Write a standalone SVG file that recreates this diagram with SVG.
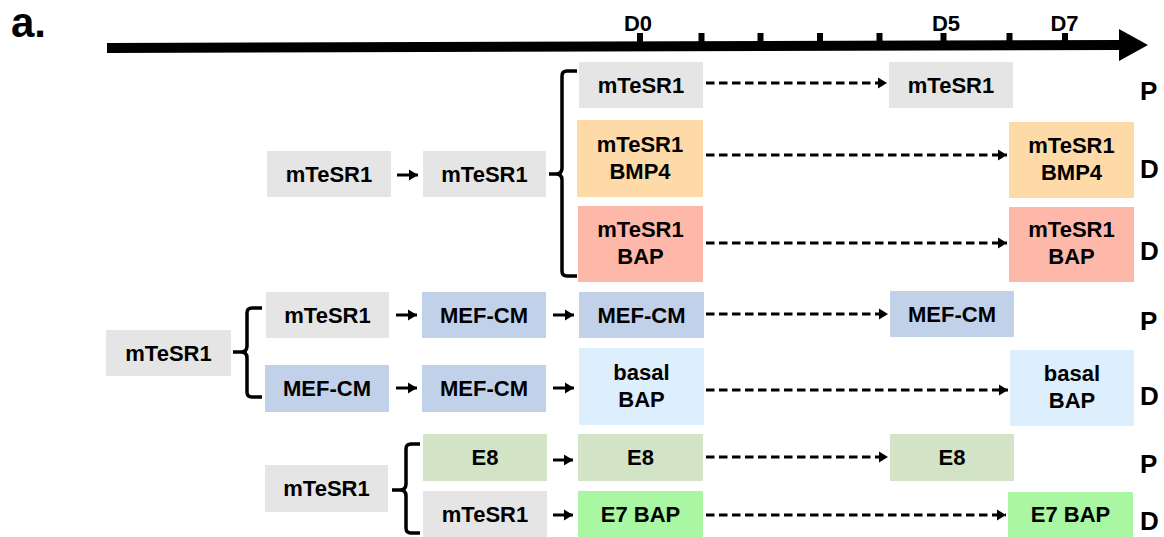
<svg xmlns="http://www.w3.org/2000/svg" width="1164" height="537" viewBox="0 0 1164 537">
<defs>
<style>
text{font-family:"Liberation Sans",Arial,Helvetica,sans-serif;font-weight:bold;fill:#000;}
.t{font-size:22px;text-anchor:middle;}
.lab{font-size:26px;}
.day{font-size:22px;text-anchor:middle;}
.gray{fill:#e5e5e5;}
.orange{fill:#fddaa8;}
.salmon{fill:#fdb8a9;}
.blue{fill:#c2d1ea;}
.lblue{fill:#ddeefd;}
.sage{fill:#d2e4c5;}
.green{fill:#a9f7a2;}
.dash{stroke:#000;stroke-width:3;stroke-dasharray:8.5 4.5;fill:none;}
.solid{stroke:#000;stroke-width:3;fill:none;}
.brace{stroke:#000;stroke-width:3.5;fill:none;stroke-linejoin:round;}
</style>
<marker id="ah" markerUnits="userSpaceOnUse" markerWidth="10" markerHeight="12" refX="9" refY="6" orient="auto">
<path d="M0,0.5 L9,6 L0,11.5 Z" fill="#000"/>
</marker>
</defs>
<rect width="1164" height="537" fill="#fff"/>
<text x="11" y="37" style="font-size:42px">a.</text>
<g id="timeline">
<polygon points="107,43 1121,40 1121,50 107,53" fill="#000"/>
<polygon points="1119,29 1148,45 1119,61" fill="#000"/>
<rect x="637" y="33" width="6" height="12" fill="#000"/>
<rect x="698.5" y="33" width="6" height="12" fill="#000"/>
<rect x="757.5" y="33" width="6" height="12" fill="#000"/>
<rect x="817" y="33" width="6" height="12" fill="#000"/>
<rect x="876.5" y="33" width="6" height="12" fill="#000"/>
<rect x="940.5" y="33" width="6" height="12" fill="#000"/>
<rect x="1006.5" y="33" width="6" height="12" fill="#000"/>
<rect x="1062" y="33" width="6" height="12" fill="#000"/>
<text class="day" x="638" y="31">D0</text>
<text class="day" x="946" y="31">D5</text>
<text class="day" x="1064.5" y="31">D7</text>
</g>
<g id="connectors">
<path class="dash" d="M706,83 H887" marker-end="url(#ah)"/>
<path class="dash" d="M706,155 H1007" marker-end="url(#ah)"/>
<path class="dash" d="M706,243 H1007" marker-end="url(#ah)"/>
<path class="dash" d="M706,314 H888" marker-end="url(#ah)"/>
<path class="dash" d="M706,390 H1008" marker-end="url(#ah)"/>
<path class="dash" d="M706,457 H888" marker-end="url(#ah)"/>
<path class="dash" d="M706,515 H1006" marker-end="url(#ah)"/>
<path class="solid" d="M397,175 H418" marker-end="url(#ah)"/>
<path class="solid" d="M396,315 H417" marker-end="url(#ah)"/>
<path class="solid" d="M553,315 H574" marker-end="url(#ah)"/>
<path class="solid" d="M396,388 H417" marker-end="url(#ah)"/>
<path class="solid" d="M553,388 H574" marker-end="url(#ah)"/>
<path class="solid" d="M553,460 H573" marker-end="url(#ah)"/>
<path class="solid" d="M553,515 H573" marker-end="url(#ah)"/>
<path class="brace" d="M577,71 H567 Q562,71 562,76 V168 Q562,174 556,174 H549 M556,174 Q562,174 562,180 V271 Q562,276 567,276 H577"/>
<path class="brace" d="M262,308 H252 Q247,308 247,313 V346 Q247,352 241,352 H233 M241,352 Q247,352 247,358 V392 Q247,397 252,397 H262"/>
<path class="brace" d="M420,444 H411 Q406,444 406,449 V484 Q406,490 400,490 H392 M400,490 Q406,490 406,496 V528 Q406,533 411,533 H420"/>
</g>
<g id="n_r1_d0"><rect class="gray" x="579" y="62" width="124" height="46"/><text class="t" x="641" y="93">mTeSR1</text></g>
<g id="n_r1_d5"><rect class="gray" x="889" y="62" width="124" height="46"/><text class="t" x="951" y="93">mTeSR1</text></g>
<g id="n_r2_pre1"><rect class="gray" x="267" y="151" width="124" height="46"/><text class="t" x="329" y="182">mTeSR1</text></g>
<g id="n_r2_pre2"><rect class="gray" x="423" y="151" width="123" height="46"/><text class="t" x="484.5" y="182">mTeSR1</text></g>
<g id="n_r2_d0"><rect class="orange" x="577" y="120" width="126" height="77"/><text class="t" x="640" y="152">mTeSR1</text><text class="t" x="640" y="179">BMP4</text></g>
<g id="n_r2_d7"><rect class="orange" x="1009" y="122" width="125" height="76"/><text class="t" x="1071.5" y="153">mTeSR1</text><text class="t" x="1071.5" y="180">BMP4</text></g>
<g id="n_r3_d0"><rect class="salmon" x="578" y="206" width="125" height="76"/><text class="t" x="640.5" y="237">mTeSR1</text><text class="t" x="640.5" y="264">BAP</text></g>
<g id="n_r3_d7"><rect class="salmon" x="1009" y="207" width="125" height="75"/><text class="t" x="1071.5" y="237">mTeSR1</text><text class="t" x="1071.5" y="264">BAP</text></g>
<g id="n_big_left"><rect class="gray" x="106" y="330" width="125" height="46"/><text class="t" x="168.5" y="361">mTeSR1</text></g>
<g id="n_r4_a"><rect class="gray" x="266" y="292" width="123" height="46"/><text class="t" x="327.5" y="323">mTeSR1</text></g>
<g id="n_r4_b"><rect class="blue" x="422" y="292" width="124" height="46"/><text class="t" x="484" y="323">MEF-CM</text></g>
<g id="n_r4_d0"><rect class="blue" x="579" y="292" width="125" height="46"/><text class="t" x="641.5" y="323">MEF-CM</text></g>
<g id="n_r4_d5"><rect class="blue" x="890" y="291" width="124" height="46"/><text class="t" x="952" y="322">MEF-CM</text></g>
<g id="n_r5_a"><rect class="blue" x="265" y="365" width="124" height="47"/><text class="t" x="327" y="396">MEF-CM</text></g>
<g id="n_r5_b"><rect class="blue" x="422" y="365" width="124" height="47"/><text class="t" x="484" y="396">MEF-CM</text></g>
<g id="n_r5_d0"><rect class="lblue" x="579" y="348" width="125" height="77"/><text class="t" x="641.5" y="380">basal</text><text class="t" x="641.5" y="407">BAP</text></g>
<g id="n_r5_d7"><rect class="lblue" x="1010" y="350" width="124" height="76"/><text class="t" x="1072" y="381">basal</text><text class="t" x="1072" y="408">BAP</text></g>
<g id="n_bottom_left"><rect class="gray" x="265" y="465" width="123" height="47"/><text class="t" x="326.5" y="496">mTeSR1</text></g>
<g id="n_r6_a"><rect class="sage" x="423" y="434" width="124" height="47"/><text class="t" x="485" y="465">E8</text></g>
<g id="n_r6_d0"><rect class="sage" x="578" y="434" width="125" height="47"/><text class="t" x="640.5" y="465">E8</text></g>
<g id="n_r6_d5"><rect class="sage" x="890" y="434" width="124" height="47"/><text class="t" x="952" y="465">E8</text></g>
<g id="n_r7_a"><rect class="gray" x="423" y="491" width="124" height="46"/><text class="t" x="485" y="522">mTeSR1</text></g>
<g id="n_r7_d0"><rect class="green" x="578" y="491" width="125" height="46"/><text class="t" x="640.5" y="522">E7 BAP</text></g>
<g id="n_r7_d7"><rect class="green" x="1008" y="492" width="125" height="45"/><text class="t" x="1070.5" y="522">E7 BAP</text></g>
<g id="labels">
<text class="lab" x="1140" y="100">P</text>
<text class="lab" x="1140" y="178">D</text>
<text class="lab" x="1140" y="260">D</text>
<text class="lab" x="1140" y="330">P</text>
<text class="lab" x="1140" y="405">D</text>
<text class="lab" x="1140" y="473">P</text>
<text class="lab" x="1140" y="530">D</text>
</g>
</svg>
